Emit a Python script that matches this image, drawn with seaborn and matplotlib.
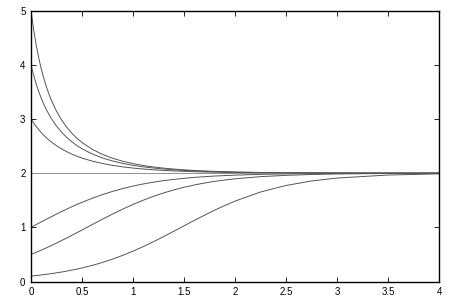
import matplotlib
matplotlib.use("Agg")
import matplotlib.pyplot as plt
import seaborn as sns
import pandas as pd

# sample positions along the x axis
x_vals = [0, 0.025, 0.05, 0.075, 0.1, 0.125, 0.15, 0.175, 0.2, 0.25, 0.3, 0.35,
          0.4, 0.45, 0.5, 0.6, 0.7, 0.8, 0.9, 1.0, 1.1, 1.2, 1.3, 1.4, 1.5, 1.6,
          1.7, 1.8, 1.9, 2.0, 2.25, 2.5, 2.75, 3.0, 3.5, 4.0]

# curves
y_start5 = [5.0, 4.659, 4.375, 4.136, 3.931, 3.754, 3.600, 3.465, 3.346, 3.144,
            2.982, 2.849, 2.738, 2.646, 2.566, 2.441, 2.347, 2.276, 2.220, 2.177,
            2.142, 2.115, 2.093, 2.076, 2.062, 2.050, 2.041, 2.033, 2.027, 2.022,
            2.013, 2.008, 2.005, 2.003, 2.001, 2.000]
y_start4 = [4.0, 3.814, 3.652, 3.511, 3.386, 3.275, 3.177, 3.088, 3.008, 2.871,
            2.756, 2.661, 2.580, 2.510, 2.451, 2.355, 2.281, 2.225, 2.180, 2.145,
            2.117, 2.095, 2.077, 2.063, 2.051, 2.042, 2.034, 2.028, 2.023, 2.018,
            2.011, 2.007, 2.004, 2.002, 2.001, 2.000]
y_start3 = [3.0, 2.929, 2.864, 2.805, 2.751, 2.701, 2.656, 2.614, 2.575, 2.507,
            2.448, 2.397, 2.352, 2.313, 2.279, 2.223, 2.179, 2.144, 2.117, 2.094,
            2.077, 2.062, 2.051, 2.041, 2.034, 2.028, 2.022, 2.018, 2.015, 2.012,
            2.007, 2.004, 2.003, 2.002, 2.001, 2.000]
y_start2 = [2.0] * 36
y_start1 = [1.0, 1.025, 1.050, 1.075, 1.100, 1.124, 1.149, 1.173, 1.197, 1.245,
            1.291, 1.336, 1.380, 1.422, 1.462, 1.537, 1.604, 1.664, 1.716, 1.762,
            1.801, 1.834, 1.862, 1.885, 1.905, 1.922, 1.935, 1.947, 1.956, 1.964,
            1.978, 1.987, 1.992, 1.995, 1.998, 1.999]
y_start05 = [0.5, 0.519, 0.538, 0.558, 0.579, 0.599, 0.621, 0.642, 0.664, 0.709,
             0.756, 0.803, 0.852, 0.901, 0.951, 1.051, 1.150, 1.246, 1.337, 1.423,
             1.501, 1.572, 1.635, 1.691, 1.740, 1.782, 1.818, 1.849, 1.874, 1.896,
             1.936, 1.960, 1.976, 1.985, 1.995, 1.998]
y_start01 = [0.1, 0.105, 0.110, 0.115, 0.121, 0.127, 0.133, 0.139, 0.146, 0.160,
             0.175, 0.192, 0.210, 0.229, 0.250, 0.297, 0.352, 0.414, 0.483, 0.560,
             0.644, 0.734, 0.829, 0.928, 1.028, 1.127, 1.223, 1.317, 1.403, 1.484,
             1.652, 1.773, 1.856, 1.910, 1.966, 1.987]

series = {"5": y_start5, "4": y_start4, "3": y_start3, "2": y_start2,
          "1": y_start1, "0.5": y_start05, "0.1": y_start01}

x_ticks = [0, 0.5, 1, 1.5, 2, 2.5, 3, 3.5, 4]
x_tick_labels = ["0", "0.5", "1", "1.5", "2", "2.5", "3", "3.5", "4"]
y_ticks = [0, 1, 2, 3, 4, 5]
y_tick_labels = ["0", "1", "2", "3", "4", "5"]

rows = []
for name, ys in series.items():
    for xv, yv in zip(x_vals, ys):
        rows.append({"x": xv, "y": yv, "curve": name})
df = pd.DataFrame(rows)

sns.set_style("ticks")
plt.rcParams["font.family"] = ["Liberation Sans", "DejaVu Sans"]

fig = plt.figure(figsize=(4.53, 3.01), dpi=100)
ax = fig.add_axes([31 / 453, (301 - 281.5) / 301, (439 - 31) / 453, (281.5 - 10.7) / 301])

palette = {k: "#555555" for k in series}
palette["2"] = "#909090"
sns.lineplot(data=df, x="x", y="y", hue="curve", palette=palette,
             estimator=None, sort=False, legend=False, linewidth=0.7, ax=ax)

ax.set_xlim(0, 4)
ax.set_ylim(0, 5)
ax.set_xticks(x_ticks)
ax.set_xticklabels(x_tick_labels)
ax.set_yticks(y_ticks)
ax.set_yticklabels(y_tick_labels)
ax.set_xlabel("")
ax.set_ylabel("")
ax.tick_params(direction="in", length=3.5, width=0.6, labelsize=7,
               top=True, right=True, colors="black", pad=4)
for s in ax.spines.values():
    s.set_visible(True)
    s.set_linewidth(1.0)
    s.set_color("black")

fig.savefig("out.png", dpi=100)
